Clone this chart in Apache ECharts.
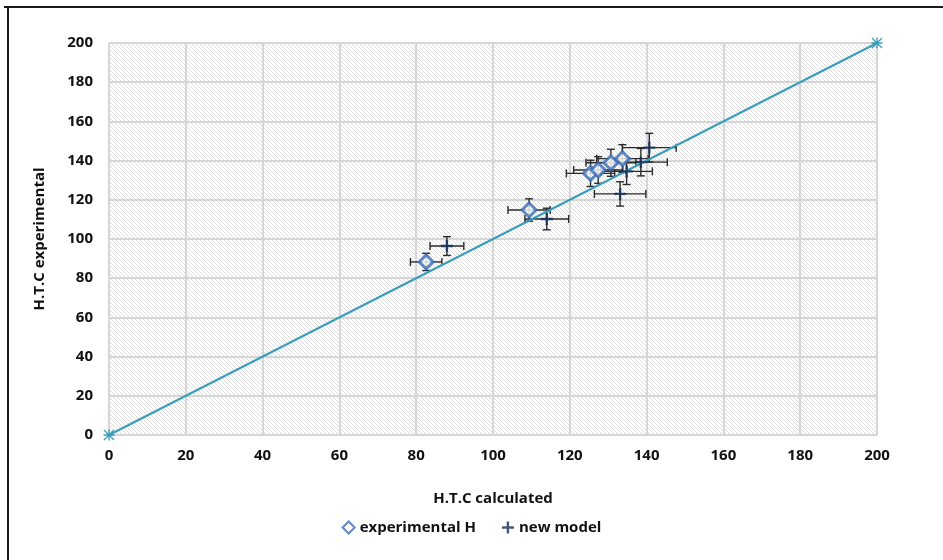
<!DOCTYPE html>
<html>
<head>
<meta charset="utf-8">
<script src="https://cdn.jsdelivr.net/npm/echarts@6/dist/echarts.min.js"></script>
<style>html,body{margin:0;padding:0;background:#fff}#c{width:943px;height:560px}</style>
</head>
<body>
<div id="c"></div>
<script>
// Data
var expX = [82.6, 109.4, 125.4, 127.4, 130.7, 133.7];
var expY = [88.3, 114.8, 133.5, 135.2, 138.9, 141.0];
var expXErr = [4.1, 5.5, 6.3, 6.4, 6.5, 6.7];
var expYErr = [4.4, 5.7, 6.7, 6.8, 6.9, 7.1];

var newX = [88.0, 114.0, 133.1, 134.8, 138.5, 140.7];
var newY = [96.4, 110.2, 123.0, 134.5, 139.2, 146.6];
var newXErr = [4.4, 5.7, 6.7, 6.7, 6.9, 7.0];
var newYErr = [4.8, 5.5, 6.2, 6.7, 7.0, 7.3];

var lineX = [0, 200];
var lineY = [0, 200];

var axisTicks = [0, 20, 40, 60, 80, 100, 120, 140, 160, 180, 200];

function pairs(xs, ys) { return xs.map(function (x, i) { return [x, ys[i]]; }); }
function errRows(xs, ys, ex, ey) { return xs.map(function (x, i) { return [x, ys[i], ex[i], ey[i]]; }); }

// hatch pattern
var pc = document.createElement('canvas');
pc.width = 4; pc.height = 4;
var g = pc.getContext('2d');
g.fillStyle = '#ffffff'; g.fillRect(0, 0, 4, 4);
g.strokeStyle = '#d9d9d9'; g.lineWidth = 0.9;
g.beginPath();
g.moveTo(0, 0); g.lineTo(4, 4);
g.moveTo(-2, 2); g.lineTo(2, 6);
g.moveTo(2, -2); g.lineTo(6, 2);
g.stroke();

var plusPath = 'path://M4,0 H6 V4 H10 V6 H6 V10 H4 V6 H0 V4 H4 Z';
var starPath = 'path://M4.4,0 H5.6 V10 H4.4 Z M0,4.4 H10 V5.6 H0 Z M0.8,0 L5,4.2 L9.2,0 L10,0.8 L5.8,5 L10,9.2 L9.2,10 L5,5.8 L0.8,10 L0,9.2 L4.2,5 L0,0.8 Z';

function errRender(params, api) {
  var x = api.value(0), y = api.value(1), ex = api.value(2), ey = api.value(3);
  var l = api.coord([x - ex, y]), r = api.coord([x + ex, y]);
  var t = api.coord([x, y + ey]), b = api.coord([x, y - ey]);
  var cap = 4;
  var st = { stroke: '#2b2b2b', lineWidth: 1.4 };
  return {
    type: 'group',
    children: [
      { type: 'line', shape: { x1: l[0], y1: l[1], x2: r[0], y2: r[1] }, style: st },
      { type: 'line', shape: { x1: l[0], y1: l[1] - cap, x2: l[0], y2: l[1] + cap }, style: st },
      { type: 'line', shape: { x1: r[0], y1: r[1] - cap, x2: r[0], y2: r[1] + cap }, style: st },
      { type: 'line', shape: { x1: t[0], y1: t[1], x2: b[0], y2: b[1] }, style: st },
      { type: 'line', shape: { x1: t[0] - cap, y1: t[1], x2: t[0] + cap, y2: t[1] }, style: st },
      { type: 'line', shape: { x1: b[0] - cap, y1: b[1], x2: b[0] + cap, y2: b[1] }, style: st }
    ]
  };
}

var font = '"Open Sans", "DejaVu Sans", sans-serif';
var lbl = { fontFamily: font, fontWeight: 'bold', fontSize: 15, color: '#111' };
var chart = echarts.init(document.getElementById('c'));
chart.setOption({
  animation: false,
  backgroundColor: '#ffffff',
  textStyle: { fontFamily: font },
  grid: {
    left: 109, right: 66, top: 43, bottom: 125,
    show: true,
    backgroundColor: { image: pc, repeat: 'repeat' },
    borderColor: '#d4d4d4', borderWidth: 1
  },
  legend: {
    bottom: 20, left: 'center', itemGap: 26, itemWidth: 12, itemHeight: 12,
    textStyle: lbl,
    data: ['experimental H', 'new model']
  },
  xAxis: {
    type: 'value', min: 0, max: 200, interval: 20,
    name: 'H.T.C calculated', nameLocation: 'middle', nameGap: 56,
    nameTextStyle: lbl,
    axisLine: { show: false }, axisTick: { show: false },
    axisLabel: Object.assign({ margin: 13,
      formatter: function (v) { return axisTicks.indexOf(v) >= 0 ? String(v) : ''; } }, lbl),
    splitLine: { show: true, lineStyle: { color: '#d6d6d6', width: 2 } }
  },
  yAxis: {
    type: 'value', min: 0, max: 200, interval: 20,
    name: 'H.T.C experimental', nameLocation: 'middle', nameGap: 62,
    nameTextStyle: lbl,
    axisLine: { show: false }, axisTick: { show: false },
    axisLabel: Object.assign({ margin: 16 }, lbl),
    splitLine: { show: true, lineStyle: { color: '#d6d6d6', width: 2 } }
  },
  graphic: [
    { type: 'polyline', silent: true, z: 100,
      shape: { points: [[4, 7], [943, 7]] }, style: { stroke: '#1a1a1a', lineWidth: 2, fill: null } },
    { type: 'polyline', silent: true, z: 100,
      shape: { points: [[8, 7], [8, 560]] }, style: { stroke: '#1a1a1a', lineWidth: 2, fill: null } }
  ],
  series: [
    { type: 'custom', name: 'errExp', renderItem: errRender, data: errRows(expX, expY, expXErr, expYErr), z: 2, silent: true,
      encode: { x: 0, y: 1 } },
    { type: 'custom', name: 'errNew', renderItem: errRender, data: errRows(newX, newY, newXErr, newYErr), z: 2, silent: true,
      encode: { x: 0, y: 1 } },
    { type: 'line', name: 'fit', data: pairs(lineX, lineY), z: 3,
      symbol: starPath, symbolSize: 11, showSymbol: true,
      lineStyle: { color: '#3a9dbb', width: 2 },
      itemStyle: { color: '#3a9dbb' } },
    { type: 'scatter', name: 'experimental H', data: pairs(expX, expY), z: 4,
      symbol: 'diamond', symbolSize: 14,
      itemStyle: { color: '#ffffff', borderColor: '#3a6cb8', borderWidth: 3 } },
    { type: 'scatter', name: 'new model', data: pairs(newX, newY), z: 5,
      symbol: plusPath, symbolSize: 12,
      itemStyle: { color: '#16305c' } }
  ]
});
</script>
</body>
</html>
